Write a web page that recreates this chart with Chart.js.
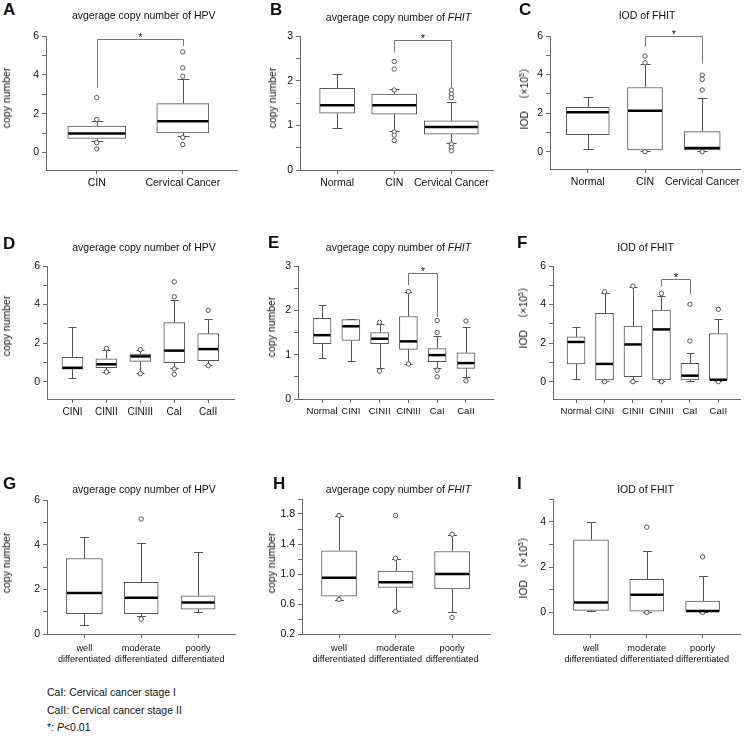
<!DOCTYPE html>
<html><head><meta charset="utf-8">
<script src="https://cdn.jsdelivr.net/npm/chart.js@4"></script>
<style>
html,body{margin:0;padding:0;background:#fff;}
body{width:745px;height:739px;position:relative;overflow:hidden;font-family:"Liberation Sans",Arial,sans-serif;color:#111;}
canvas{position:absolute;}
.lt{position:absolute;font-weight:bold;font-size:17px;line-height:17px;}
.tt{position:absolute;font-size:10.5px;line-height:13px;white-space:nowrap;transform:translate(-50%,-50%);}
.yt{position:absolute;font-size:10.5px;line-height:12px;white-space:nowrap;transform:translate(-50%,-50%) rotate(-90deg);font-family:"Liberation Sans",Arial,"Noto Sans CJK SC",sans-serif;}
.fn{position:absolute;font-size:10.5px;line-height:12px;white-space:nowrap;left:47px;}
</style></head><body>
<script>
// ---------- categories ----------
const catAB = ['CIN', 'Cervical Cancer'];
const catThree = ['Normal', 'CIN', 'Cervical Cancer'];
const catStage = ['CINI', 'CINII', 'CINIII', 'CaI', 'CaII'];
const catStageN = ['Normal', 'CINI', 'CINII', 'CINIII', 'CaI', 'CaII'];
const catDiff = [['well', 'differentiated'], ['moderate', 'differentiated'], ['poorly', 'differentiated']];

// ---------- y tick values / labelled ticks ----------
const ticksSix = [0, 1, 2, 3, 4, 5, 6];
const labelsSix = [0, 2, 4, 6];
const ticksThree = [0, 0.5, 1, 1.5, 2, 2.5, 3];
const labelsThree = [0, 1, 2, 3];
const ticksH = [0.2, 0.4, 0.6, 0.8, 1.0, 1.2, 1.4, 1.6, 1.8, 2.0];
const labelsH = [0.2, 0.6, 1.0, 1.4, 1.8];
const ticksI = [0, 1, 2, 3, 4, 5];
const labelsI = [0, 2, 4];

// ---------- A: HPV copy number, CIN vs cancer ----------
const aLow = [0.58, 0.86];
const aQ1 = [0.72, 1.01];
const aMed = [0.98, 1.61];
const aQ3 = [1.36, 2.52];
const aHigh = [1.63, 3.81];
const aOut = [[2.83, 1.70, 0.51, 0.19], [5.18, 4.36, 3.93, 0.77, 0.41]];
const aSig = [1, 2, 5.83, 3.34, 5.49];

// ---------- B: FHIT copy number ----------
const bLow = [0.93, 0.87, 0.60];
const bQ1 = [1.27, 1.25, 0.80];
const bMed = [1.45, 1.45, 0.96];
const bQ3 = [1.83, 1.70, 1.10];
const bHigh = [2.14, 1.81, 1.53];
const bOut = [[], [2.43, 2.26, 1.79, 0.85, 0.78, 0.66], [1.79, 1.70, 1.62, 0.58, 0.50, 0.43]];
const bSig = [2, 3, 2.91, 2.63, 1.85];

// ---------- C: IOD of FHIT ----------
const cLow = [0.12, 0.05, 0.05];
const cQ1 = [0.88, 0.09, 0.09];
const cMed = [2.04, 2.12, 0.19];
const cQ3 = [2.30, 3.33, 1.04];
const cHigh = [2.82, 4.54, 2.80];
const cOut = [[], [4.96, 4.61, 0.0], [3.97, 3.75, 3.20, 0.0]];
const cSig = [2, 3, 6.0, 5.44, 4.58];

// ---------- D: HPV by stage ----------
const dLow = [0.17, 0.52, 0.43, 0.69, 0.86];
const dQ1 = [0.65, 0.73, 1.05, 0.98, 1.09];
const dMed = [0.72, 0.90, 1.31, 1.61, 1.69];
const dQ3 = [1.26, 1.19, 1.43, 3.06, 2.49];
const dHigh = [2.85, 1.64, 1.64, 4.23, 3.26];
const dOut = [[], [1.72, 0.50], [1.66, 0.41], [5.18, 4.40, 0.66, 0.38], [3.70, 0.83]];

// ---------- E: FHIT by stage ----------
const eLow = [0.93, 0.86, 0.70, 0.79, 0.71, 0.50];
const eQ1 = [1.25, 1.32, 1.25, 1.12, 0.84, 0.69];
const eMed = [1.44, 1.64, 1.36, 1.30, 0.99, 0.81];
const eQ3 = [1.82, 1.79, 1.50, 1.86, 1.14, 1.04];
const eHigh = [2.13, 1.81, 1.70, 2.42, 1.43, 1.63];
const eOut = [[], [], [1.73, 0.63], [2.42, 0.79], [1.77, 1.50, 0.65, 0.50], [1.76, 0.41]];
const eSig = [4, 5, 2.85, 2.57, 1.85];

// ---------- F: IOD by stage ----------
const fLow = [0.12, 0.03, 0.03, 0.03, 0.03, 0.03];
const fQ1 = [0.92, 0.09, 0.26, 0.09, 0.09, 0.09];
const fMed = [2.06, 0.92, 1.93, 2.71, 0.31, 0.10];
const fQ3 = [2.33, 3.54, 2.88, 3.71, 0.95, 2.50];
const fHigh = [2.85, 4.58, 4.89, 4.46, 1.50, 3.26];
const fOut = [[], [4.66, 0.0], [4.96, 0.0], [4.58, 0.0], [4.01, 2.11], [3.75, 0.0]];
const fSig = [4, 5, 5.30, 4.92, 4.54];

// ---------- G: HPV by differentiation ----------
const gLow = [0.39, 0.79, 0.99];
const gQ1 = [0.91, 0.91, 1.11];
const gMed = [1.84, 1.62, 1.41];
const gQ3 = [3.38, 2.31, 1.71];
const gHigh = [4.36, 4.06, 3.67];
const gOut = [[], [5.15, 0.67], []];

// ---------- H: FHIT by differentiation ----------
const hLow = [0.66, 0.51, 0.49];
const hQ1 = [0.705, 0.82, 0.80];
const hMed = [0.95, 0.89, 1.00];
const hQ3 = [1.31, 1.04, 1.30];
const hHigh = [1.77, 1.20, 1.52];
const hOut = [[1.78, 0.66], [1.78, 1.21, 0.50], [1.53, 0.42]];

// ---------- I: IOD by differentiation ----------
const iLow = [0.06, 0.03, 0.02];
const iQ1 = [0.09, 0.06, 0.04];
const iMed = [0.44, 0.78, 0.06];
const iQ3 = [3.20, 1.46, 0.50];
const iHigh = [3.99, 2.70, 1.61];
const iOut = [[], [3.76, 0.0], [2.45, 0.0]];

const titleHPV = 'avgerage copy number of HPV';
const titleFHIT = 'avgerage copy number of <i>FHIT</i>';
const titleIOD = 'IOD of FHIT';
const yCopy = 'copy number';
const yIOD = 'IOD &nbsp;（×10<sup style="font-size:7px;vertical-align:4px">5</sup>）';

// ---------- layout / style ----------
const FONT = "'Liberation Sans', Arial, 'Noto Sans CJK SC', sans-serif";
Chart.defaults.font.family = FONT;
Chart.defaults.color = '#111';
const AXIS = '#6a6a6a', BOXC = '#555';

const panels = [
 {L:'A', lx:3, ly:15, title:titleHPV, tx:143.7, ty:15, yx:5.5, yy:97.5, cl:0, pl:46, pt:36, pr:237, pb:170, xh:24, ymin:-0.9, ymax:6, xmin:0.41, xmax:2.63, xf:10.5,
  cats:catAB, low:aLow, q1:aQ1, med:aMed, q3:aQ3, high:aHigh, out:aOut, yt:ticksSix, yl:labelsSix, ytitle:yCopy, widths:[58,52], cap:12, sig:aSig},
 {L:'B', lx:270, ly:15, title:titleFHIT, tx:398.5, ty:16.5, yx:271.5, yy:97.5, cl:264, pl:300, pt:36, pr:493, pb:170, xh:24, ymin:0, ymax:3, xmin:0.35, xmax:3.73, xf:10.5,
  cats:catThree, low:bLow, q1:bQ1, med:bMed, q3:bQ3, high:bHigh, out:bOut, yt:ticksThree, yl:labelsThree, ytitle:yCopy, widths:[35,45,54], cap:10, sig:bSig},
 {L:'C', lx:519, ly:15, title:titleIOD, tx:647, ty:15, yx:522.5, yy:96, cl:516, pl:550, pt:36, pr:740, pb:169, xh:24, ymin:-0.9, ymax:6, xmin:0.34, xmax:3.66, xf:10.5,
  cats:catThree, low:cLow, q1:cQ1, med:cMed, q3:cQ3, high:cHigh, out:cOut, yt:ticksSix, yl:labelsSix, ytitle:yIOD, widths:[43,35,36], cap:10, sig:cSig},
 {L:'D', lx:3, ly:249, title:titleHPV, tx:144, ty:247.3, yx:5.5, yy:326, cl:0, pl:47, pt:266, pr:234, pb:399, xh:24, ymin:-0.9, ymax:6, xmin:0.25, xmax:5.76, xf:10,
  cats:catStage, low:dLow, q1:dQ1, med:dMed, q3:dQ3, high:dHigh, out:dOut, yt:ticksSix, yl:labelsSix, ytitle:yCopy, widths:[21,21,21,21,21], cap:8, sig:null},
 {L:'E', lx:268, ly:248, title:titleFHIT, tx:398.5, ty:247.3, yx:270.5, yy:327, cl:264, pl:298, pt:266, pr:493, pb:399, xh:24, ymin:0, ymax:3, xmin:0.164, xmax:6.94, xf:9.6,
  cats:catStageN, low:eLow, q1:eQ1, med:eMed, q3:eQ3, high:eHigh, out:eOut, yt:ticksThree, yl:labelsThree, ytitle:yCopy, widths:[18,18,18,18,18,18], cap:8, sig:eSig},
 {L:'F', lx:517, ly:248, title:titleIOD, tx:645.5, ty:247, yx:522, yy:315, cl:516, pl:553, pt:266, pr:743, pb:399, xh:24, ymin:-0.9, ymax:6, xmin:0.19, xmax:6.76, xf:9.6,
  cats:catStageN, low:fLow, q1:fQ1, med:fMed, q3:fQ3, high:fHigh, out:fOut, yt:ticksSix, yl:labelsSix, ytitle:yIOD, widths:[18,18,18,18,18,18], cap:8, sig:fSig},
 {L:'G', lx:3, ly:489, title:titleHPV, tx:144, ty:489.3, yx:5.5, yy:562.7, cl:0, pl:47, pt:500, pr:235, pb:634, xh:32, ymin:0, ymax:6, xmin:0.342, xmax:3.65, xf:9.2,
  cats:catDiff, low:gLow, q1:gQ1, med:gMed, q3:gQ3, high:gHigh, out:gOut, yt:ticksSix, yl:labelsSix, ytitle:yCopy, widths:[36,34,34], cap:9, sig:null},
 {L:'H', lx:273, ly:489, title:titleFHIT, tx:398.5, ty:489.3, yx:270.5, yy:562.7, cl:264, pl:302, pt:499, pr:490, pb:634, xh:32, ymin:0.2, ymax:2.0, xmin:0.345, xmax:3.67, xf:9.2,
  cats:catDiff, low:hLow, q1:hQ1, med:hMed, q3:hQ3, high:hHigh, out:hOut, yt:ticksH, yl:labelsH, ytitle:yCopy, widths:[35,35,35], cap:9, sig:null, dec:1},
 {L:'I', lx:517, ly:489, title:titleIOD, tx:645.5, ty:489.3, yx:522, yy:565, cl:516, pl:553, pt:499, pr:743, pb:634, xh:32, ymin:-0.95, ymax:5, xmin:0.32, xmax:3.67, xf:9.2,
  cats:catDiff, low:iLow, q1:iQ1, med:iMed, q3:iQ3, high:iHigh, out:iOut, yt:ticksI, yl:labelsI, ytitle:yIOD, widths:[35,34,34], cap:9, sig:null}
];

const boxParts = {
  id: 'boxParts',
  beforeDatasetsDraw(chart) {
    const p = chart.options.plugins.boxParts;
    const xs = chart.scales.x, ys = chart.scales.y, ctx = chart.ctx;
    ctx.save();
    ctx.strokeStyle = BOXC; ctx.lineWidth = 1;
    ctx.beginPath();
    p.low.forEach((lo, i) => {
      const x = Math.round(xs.getPixelForValue(i + 1)) + 0.5;
      const yq1 = ys.getPixelForValue(p.q1[i]), yq3 = ys.getPixelForValue(p.q3[i]);
      const ylo = Math.round(ys.getPixelForValue(lo)) + 0.5;
      const yhi = Math.round(ys.getPixelForValue(p.high[i])) + 0.5;
      ctx.moveTo(x, yq3); ctx.lineTo(x, yhi);
      ctx.moveTo(x - p.cap / 2, yhi); ctx.lineTo(x + p.cap / 2, yhi);
      ctx.moveTo(x, yq1); ctx.lineTo(x, ylo);
      ctx.moveTo(x - p.cap / 2, ylo); ctx.lineTo(x + p.cap / 2, ylo);
    });
    ctx.stroke();
    ctx.restore();
  },
  afterDatasetsDraw(chart) {
    const p = chart.options.plugins.boxParts;
    const xs = chart.scales.x, ys = chart.scales.y, ctx = chart.ctx;
    ctx.save();
    ctx.strokeStyle = '#000'; ctx.lineWidth = 2.5;
    p.med.forEach((m, i) => {
      const x = xs.getPixelForValue(i + 1), w = p.widths[i];
      const y = ys.getPixelForValue(m);
      ctx.beginPath(); ctx.moveTo(x - w / 2 + 0.5, y); ctx.lineTo(x + w / 2 - 0.5, y); ctx.stroke();
    });
    if (p.sig) {
      const [a, b, top, le, re] = p.sig;
      const xa = Math.round(xs.getPixelForValue(a)) + 0.5, xb = Math.round(xs.getPixelForValue(b)) + 0.5;
      const yt = Math.round(ys.getPixelForValue(top)) + 0.5;
      ctx.strokeStyle = '#777'; ctx.lineWidth = 1;
      ctx.beginPath();
      ctx.moveTo(xa, ys.getPixelForValue(le)); ctx.lineTo(xa, yt); ctx.lineTo(xb, yt); ctx.lineTo(xb, ys.getPixelForValue(re));
      ctx.stroke();
      ctx.fillStyle = '#111'; ctx.font = '11px ' + FONT;
      ctx.textAlign = 'center'; ctx.textBaseline = 'alphabetic';
      ctx.fillText('*', (xa + xb) / 2, yt + 1);
    }
    ctx.restore();
  }
};

function near(arr, v) { return arr.some(a => Math.abs(a - v) < 1e-6); }

panels.forEach(P => {
  const padT = 16;
  const padR = Math.min(10, 745 - P.pr);
  const w = P.pr + padR - P.cl;
  const h = padT + (P.pb - P.pt) + P.xh;
  const cv = document.createElement('canvas');
  cv.width = w; cv.height = h;
  cv.style.left = P.cl + 'px'; cv.style.top = (P.pt - padT) + 'px';
  cv.style.width = w + 'px'; cv.style.height = h + 'px';
  document.body.appendChild(cv);

  const twoLine = Array.isArray(P.cats[0]);
  const datasets = P.q1.map((q, i) => ({
    type: 'bar', order: 2,
    data: [{x: i + 1, y: [q, P.q3[i]]}],
    barThickness: P.widths[i], grouped: false,
    backgroundColor: '#fff', borderColor: BOXC, borderWidth: 1, borderSkipped: false
  }));
  const outPts = [];
  P.out.forEach((list, i) => list.forEach(v => outPts.push({x: i + 1, y: v})));
  datasets.push({
    type: 'scatter', order: 1, data: outPts,
    pointStyle: 'circle', pointRadius: 2.2, pointBorderWidth: 1,
    pointBorderColor: '#555', pointBackgroundColor: '#fff', clip: false
  });

  new Chart(cv, {
    type: 'bar',
    data: {datasets},
    plugins: [boxParts],
    options: {
      responsive: false, animation: false, devicePixelRatio: 1, events: [],
      layout: {padding: {top: padT, left: 0, right: padR, bottom: 0}},
      plugins: {
        legend: {display: false}, tooltip: {enabled: false}, title: {display: false},
        boxParts: {low: P.low, q1: P.q1, med: P.med, q3: P.q3, high: P.high, widths: P.widths, cap: P.cap, sig: P.sig}
      },
      scales: {
        x: {
          type: 'linear', min: P.xmin, max: P.xmax, offset: false,
          afterBuildTicks: s => { s.ticks = P.cats.map((c, i) => ({value: i + 1})); },
          afterFit: s => { s.height = P.xh; },
          ticks: {
            autoSkip: false, maxRotation: 0, minRotation: 0, color: '#111',
            padding: twoLine ? 5.5 : 3,
            font: {size: P.xf, lineHeight: twoLine ? 1.15 : 1.2},
            callback: v => P.cats[Math.round(v) - 1]
          },
          grid: {display: true, offset: false, drawOnChartArea: false, drawTicks: true, tickLength: 4, color: AXIS},
          border: {display: true, color: AXIS, width: 1}
        },
        y: {
          type: 'linear', min: P.ymin, max: P.ymax,
          afterBuildTicks: s => { s.ticks = P.yt.map(v => ({value: v})); },
          afterFit: s => { s.width = P.pl - P.cl; },
          ticks: {
            autoSkip: false, color: '#111', padding: 3, font: {size: 10.5},
            callback: v => near(P.yl, v) ? (P.dec ? v.toFixed(P.dec) : String(Math.round(v))) : ''
          },
          grid: {display: true, drawOnChartArea: false, drawTicks: true, tickLength: 4, color: AXIS},
          border: {display: true, color: AXIS, width: 1},
          title: {display: false}
        }
      }
    }
  });

  const lt = document.createElement('div');
  lt.className = 'lt'; lt.textContent = P.L;
  lt.style.left = P.lx + 'px'; lt.style.top = (P.ly - 14.4) + 'px';
  document.body.appendChild(lt);
  const tt = document.createElement('div');
  tt.className = 'tt'; tt.innerHTML = P.title;
  tt.style.left = P.tx + 'px'; tt.style.top = P.ty + 'px';
  document.body.appendChild(tt);
  const yt = document.createElement('div');
  yt.className = 'yt'; yt.innerHTML = P.ytitle;
  yt.style.left = P.yx + 'px'; yt.style.top = P.yy + 'px';
  document.body.appendChild(yt);
});

const notes = ['CaI: Cervical cancer stage I', 'CaII: Cervical cancer stage II', '*: <i>P</i>&lt;0.01'];
const noteY = [691.7, 710, 726.7];
notes.forEach((n, i) => {
  const d = document.createElement('div');
  d.className = 'fn'; d.innerHTML = n; d.style.top = (noteY[i] - 6) + 'px';
  document.body.appendChild(d);
});
</script>
</body></html>
